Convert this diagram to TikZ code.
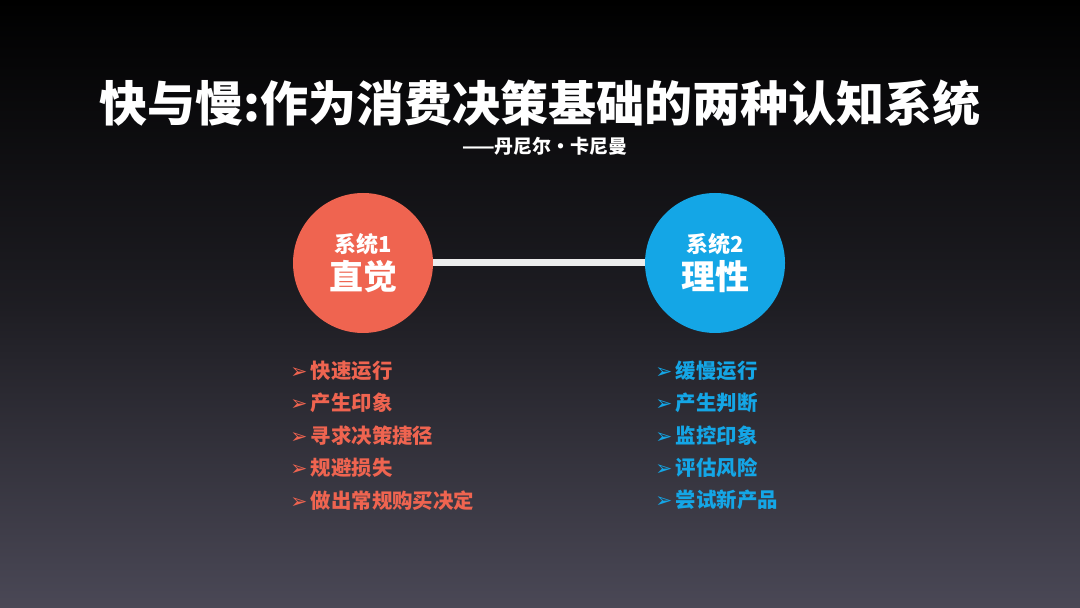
\documentclass[tikz,border=0pt]{standalone}
\usepackage{fontspec}
\setmainfont{Noto Sans CJK SC}[BoldFont={Noto Sans CJK SC Black}]
\newfontfamily\symfont{DejaVu Sans}
\usetikzlibrary{positioning}
\definecolor{sysred}{HTML}{EF6450}
\definecolor{sysblue}{HTML}{14A6E6}
\definecolor{bgtop}{HTML}{000000}
\definecolor{bgbot}{HTML}{4A4856}
\tikzset{
  syscircle/.style={circle,minimum size=70pt,inner sep=0pt,text=white,align=center,font=\bfseries},
  item/.style={anchor=west,font=\bfseries\fontsize{10.2}{12}\selectfont,inner sep=0pt},
}
\newcommand{\bul}{{\symfont ➢}\,}
\begin{document}
\begin{tikzpicture}[x=0.5pt,y=-0.5pt]
\shade[top color=bgtop,bottom color=bgbot,middle color=bgtop!60!bgbot] (0,0) rectangle (1080,608);
\useasboundingbox (0,0) rectangle (1080,608);

\node (title) at (540,103) [text=white,font=\bfseries\fontsize{24}{28}\selectfont]{快与慢:作为消费决策基础的两种认知系统};
\node (author) at (545,146) [text=white,font=\bfseries\fontsize{9.5}{11}\selectfont]{——丹尼尔·卡尼曼};

\node (s1) at (363,263) [syscircle,fill=sysred]{{\fontsize{11}{13}\selectfont 系统1}\\[2pt]{\fontsize{17}{20}\selectfont 直觉}};
\node (s2) at (715,263) [syscircle,fill=sysblue]{{\fontsize{11}{13}\selectfont 系统2}\\[2pt]{\fontsize{17}{20}\selectfont 理性}};
\draw[line width=3.5pt,white!85!gray] (s1.east) -- (s2.west);

% left list
\foreach \t [count=\i] in {快速运行,产生印象,寻求决策捷径,规避损失,做出常规购买决定}
  \node (l\i) at (290,371+32.3*\i-32.3) [item,text=sysred]{\bul\t};
% right list
\foreach \t [count=\i] in {缓慢运行,产生判断,监控印象,评估风险,尝试新产品}
  \node (r\i) at (655,371+32.3*\i-32.3) [item,text=sysblue]{\bul\t};
\end{tikzpicture}
\end{document}
